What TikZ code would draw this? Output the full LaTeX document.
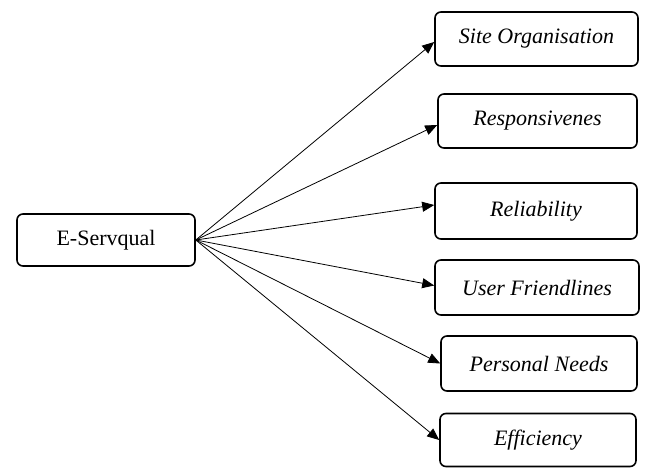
\documentclass[tikz,border=0pt]{standalone}
\usepackage{fontspec}
\setmainfont{Liberation Serif}
\usetikzlibrary{arrows.meta,calc}
\begin{document}
\begin{tikzpicture}[x=1pt,y=-1pt,
  box/.style={draw,line width=1.6pt,rounded corners=6pt,inner sep=0pt,
    font=\fontsize{22}{26}\selectfont\itshape},
  conn/.style={line width=0.8pt,-{Triangle[length=12pt,width=10pt]}}]
\useasboundingbox (0,0) rectangle (645,468);
\node[box,font=\fontsize{22}{26}\selectfont,minimum width=178pt,minimum height=52pt] (es) at (106,240) {E-Servqual};
\node[box,minimum width=203pt,minimum height=54pt] (site) at (536.5,39) {Site Organisation};
\node[box,minimum width=199pt,minimum height=54pt] (resp) at (537.5,121) {Responsivenes};
\node[box,minimum width=202pt,minimum height=56pt] (rel) at (536,211) {Reliability};
\node[box,minimum width=204pt,minimum height=55pt] (user) at (537,287.5) {User Friendlines};
\node[box,minimum width=196pt,minimum height=55pt] (pers) at (539,363.5) {Personal Needs};
\node[box,minimum width=196pt,minimum height=53pt] (eff) at (538,440) {Efficiency};
\draw[conn] (es.east) -- ($(site.west)+(0,3)$);
\draw[conn] (es.east) -- ($(resp.west)+(0,4)$);
\draw[conn] (es.east) -- ($(rel.west)+(0,-6)$);
\draw[conn] (es.east) -- ($(user.west)+(0,-2)$);
\draw[conn] (es.east) -- (pers.west);
\draw[conn] (es.east) -- (eff.west);
\end{tikzpicture}
\end{document}
